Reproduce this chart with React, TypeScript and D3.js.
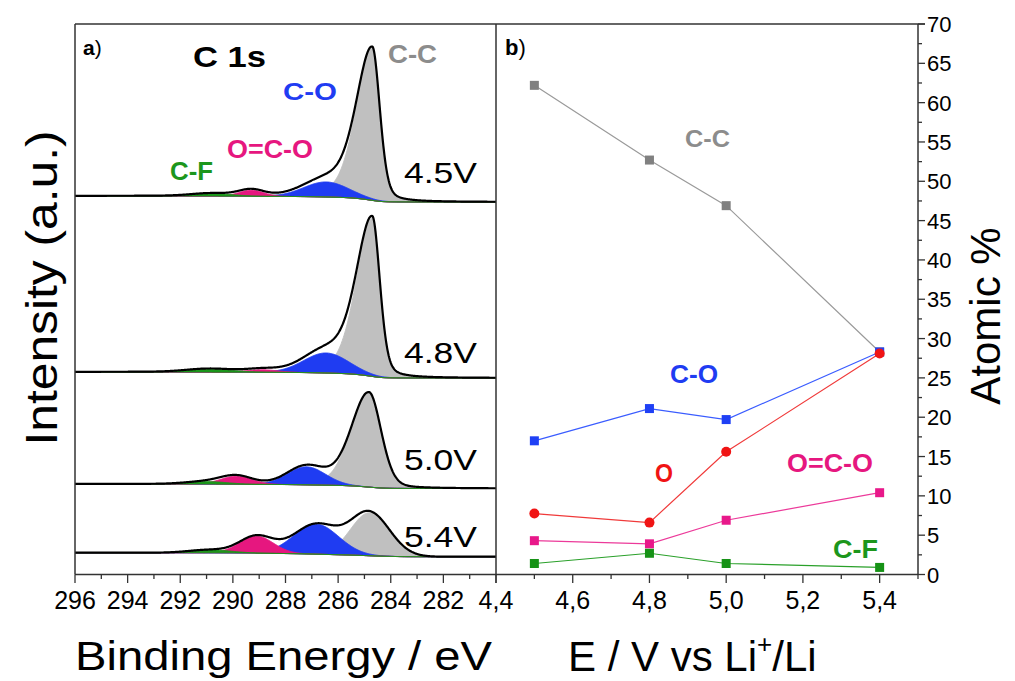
import React from "react";
import * as d3 from "d3";

// ---------- Panel a: C 1s XPS fits (peak parameters) ----------
const spectraLabels = ["4.5V", "4.8V", "5.0V", "5.4V"];
// background intensity (arb. units) at high-BE end (296 eV) and low-BE end (280 eV)
const bgHigh = [378, 202, 90, 21.3];
const bgLow = [372, 196, 85.5, 17.3];
// [center eV, height, HWHM high-BE side, HWHM low-BE side, Lorentzian fraction]
type Fit = [number, number, number, number, number];
const ccFit: Fit[] = [
  [284.7, 152, 0.72, 0.34, 0.3],
  [284.7, 158, 0.72, 0.34, 0.3],
  [284.83, 95, 0.8, 0.55, 0.2],
  [284.8, 43, 0.85, 0.9, 0],
];
const coFit: Fit[] = [
  [286.45, 15, 1.0, 1.0, 0],
  [286.45, 20, 1.0, 1.0, 0],
  [287.2, 18, 0.85, 0.85, 0],
  [286.83, 30, 1.0, 1.0, 0],
];
const ocoFit: Fit[] = [
  [289.3, 6, 0.55, 0.55, 0],
  [288.9, 2.5, 0.7, 0.7, 0],
  [289.86, 8, 0.7, 0.7, 0],
  [289.1, 17, 0.75, 0.75, 0],
];
const cfFit: Fit[] = [
  [290.8, 2.5, 0.9, 0.9, 0],
  [290.9, 3, 1.0, 1.0, 0],
  [291.0, 2.5, 0.9, 0.9, 0],
  [290.9, 3, 0.9, 0.9, 0],
];
const bindingTicks = [296, 294, 292, 290, 288, 286, 284, 282, 280];
const bindingTickLabels = ["296", "294", "292", "290", "288", "286", "284", "282", ""];

// ---------- Panel b: atomic % vs potential ----------
const potentials = [4.5, 4.8, 5.0, 5.4];
const ccAtomic = [62.2, 52.7, 46.9, 28.3];
const coAtomic = [17.0, 21.1, 19.7, 28.3];
const oAtomic = [7.75, 6.6, 15.6, 28.1];
const ocoAtomic = [4.3, 3.9, 6.9, 10.4];
const cfAtomic = [1.4, 2.7, 1.4, 0.9];
const potentialTicks = [4.4, 4.6, 4.8, 5.0, 5.2, 5.4];
const atomicTicks = [0, 5, 10, 15, 20, 25, 30, 35, 40, 45, 50, 55, 60, 65, 70];

const FONT = "'Liberation Sans', Arial, Helvetica, sans-serif";
const GRAY_FILL = "#c0c0c0";
const GRAY_TXT = "#8c8c8c";
const BLUE = "#1f3cf2";
const PINK = "#e6177f";
const GREEN = "#1c961c";
const RED = "#f01414";
const AXIS = "#333";

function pv(E: number, f: Fit) {
  const [c, h, wH, wL, m] = f;
  const w = E >= c ? wH : wL;
  const t = (E - c) / w;
  return h * (m / (1 + t * t) + (1 - m) * Math.exp(-Math.LN2 * t * t));
}

function Label(props: {
  x: number; y: number; size: number; text: string; fill?: string; bold?: boolean; width?: number; anchor?: string;
}) {
  const { x, y, size, text, fill = "#000", bold = false, width, anchor = "start" } = props;
  return (
    <text
      x={x}
      y={y}
      fontSize={size}
      fontFamily={FONT}
      fontWeight={bold ? "bold" : "normal"}
      fill={fill}
      textAnchor={anchor}
      {...(width ? { textLength: width, lengthAdjust: "spacingAndGlyphs" } : {})}
    >
      {text}
    </text>
  );
}

export default function App() {
  const xA = d3.scaleLinear().domain([296, 280]).range([75, 496]);
  const yA = d3.scaleLinear().domain([0, 550]).range([574, 24]);
  const xB = d3.scaleLinear().domain([4.4, 5.5]).range([496, 918]);
  const yB = d3.scaleLinear().domain([0, 70]).range([574.5, 24]);

  const step = 0.02;
  const grid = d3.range(0, 801).map((i) => 296 - i * step);

  const spectra = spectraLabels.map((_, s) => {
    const comps = [ccFit, coFit, ocoFit, cfFit].map((fits) => grid.map((E) => pv(E, fits[s])));
    const sum = grid.map((_, i) => comps.reduce((a, c) => a + c[i], 0));
    const cum = new Array(grid.length).fill(0);
    let acc = 0;
    for (let i = grid.length - 1; i >= 0; i--) {
      acc += sum[i] * step;
      cum[i] = acc;
    }
    const bg = grid.map((_, i) => bgLow[s] + (bgHigh[s] - bgLow[s]) * (cum[i] / acc));
    return { comps, sum, bg };
  });

  const compColors = [GRAY_FILL, BLUE, PINK, GREEN];

  const areaFor = (bg: number[], comp: number[]) =>
    d3
      .area<number>()
      .x((E) => xA(E))
      .y0((_, i) => yA(bg[i]))
      .y1((_, i) => yA(bg[i] + comp[i]))(grid) || "";

  const envFor = (bg: number[], sum: number[]) =>
    d3
      .line<number>()
      .x((E) => xA(E))
      .y((_, i) => yA(bg[i] + sum[i]))(grid) || "";

  const lineB = (vals: number[]) =>
    d3
      .line<number>()
      .x((p) => xB(p))
      .y((_, i) => yB(vals[i]))(potentials) || "";

  const spectrumLabelPos = [183, 363, 470, 547];

  const minorA = d3.range(295, 280, -2);
  const minorB = [4.5, 4.7, 4.9, 5.1, 5.3, 5.5];
  const minorY = d3.range(2.5, 70, 5);

  const squares = (vals: number[], color: string) =>
    potentials.map((p, i) => (
      <rect key={i} x={xB(p) - 4.5} y={yB(vals[i]) - 4.5} width={9} height={9} fill={color} />
    ));

  return (
    <svg
      width={1015}
      height={681}
      style={{ position: "absolute", left: 0, top: 0, background: "#fff" }}
      fontFamily={FONT}
    >
      <rect x={0} y={0} width={1015} height={681} fill="#fff" />
      <defs>
        <clipPath id="clipA">
          <rect x={75} y={24} width={421} height={550} />
        </clipPath>
      </defs>

      {/* Panel a spectra */}
      <g clipPath="url(#clipA)">
        {spectra.map((sp, s) => (
          <g key={s}>
            {sp.comps.map((c, k) => (
              <path
                key={k}
                d={areaFor(sp.bg, c)}
                fill={compColors[k]}
                stroke={compColors[k]}
                strokeWidth={1}
              />
            ))}
            <path d={envFor(sp.bg, sp.sum)} fill="none" stroke="#000" strokeWidth={2.2} />
          </g>
        ))}
      </g>

      {/* Panel b lines and markers */}
      <path d={lineB(ccAtomic)} fill="none" stroke="#9a9a9a" strokeWidth={1.2} />
      {squares(ccAtomic, "#808080")}
      <path d={lineB(coAtomic)} fill="none" stroke="#3a5cff" strokeWidth={1.2} />
      {squares(coAtomic, "#1f40f5")}
      <path d={lineB(oAtomic)} fill="none" stroke="#f03a3a" strokeWidth={1.2} />
      {potentials.map((p, i) => (
        <circle key={i} cx={xB(p)} cy={yB(oAtomic[i])} r={5} fill={RED} />
      ))}
      <path d={lineB(ocoAtomic)} fill="none" stroke="#ec3a9a" strokeWidth={1.2} />
      {squares(ocoAtomic, "#e8188a")}
      <path d={lineB(cfAtomic)} fill="none" stroke="#2aa02a" strokeWidth={1.2} />
      {squares(cfAtomic, "#169216")}

      {/* Frame */}
      <g stroke={AXIS} strokeWidth={1.5} fill="none">
        <line x1={75} y1={24} x2={925} y2={24} />
        <line x1={75} y1={24} x2={75} y2={574.5} />
        <line x1={496} y1={24} x2={496} y2={574.5} />
        <line x1={918} y1={24} x2={918} y2={574.5} />
        <line x1={75} y1={574.5} x2={918} y2={574.5} />
      </g>

      {/* Ticks */}
      <g stroke={AXIS} strokeWidth={1.3}>
        {bindingTicks.map((t) => (
          <line key={t} x1={xA(t)} x2={xA(t)} y1={574.5} y2={583} />
        ))}
        {minorA.map((t) => (
          <line key={t} x1={xA(t)} x2={xA(t)} y1={574.5} y2={579} />
        ))}
        {potentialTicks.map((t) => (
          <line key={t} x1={xB(t)} x2={xB(t)} y1={574.5} y2={583} />
        ))}
        {minorB.map((t) => (
          <line key={t} x1={xB(t)} x2={xB(t)} y1={574.5} y2={579} />
        ))}
        {atomicTicks.map((t) => (
          <line key={t} x1={918} x2={925} y1={yB(t)} y2={yB(t)} />
        ))}
        {minorY.map((t) => (
          <line key={t} x1={918} x2={922} y1={yB(t)} y2={yB(t)} />
        ))}
      </g>

      {bindingTicks.map((t, i) => (
        <Label key={t} x={xA(t)} y={609} size={25} text={bindingTickLabels[i]} anchor="middle" />
      ))}
      {potentialTicks.map((t) => (
        <Label
          key={t}
          x={xB(t)}
          y={609}
          size={25}
          text={d3.format(".1f")(t).replace(".", ",")}
          anchor="middle"
        />
      ))}
      {atomicTicks.map((t) => (
        <Label key={t} x={927} y={yB(t) + 8} size={22} text={String(t)} />
      ))}

      {/* Axis titles */}
      <Label x={283.5} y={670} size={40} text="Binding Energy / eV" anchor="middle" width={417} />
      <text x={568} y={671} fontSize={42} fontFamily={FONT} fill="#000">
        E / V vs Li
        <tspan fontSize={26} dy={-18}>+</tspan>
        <tspan dy={18}>/Li</tspan>
      </text>
      <text
        transform="translate(57,288) rotate(-90)"
        fontSize={44}
        fontFamily={FONT}
        textAnchor="middle"
        textLength={315}
        lengthAdjust="spacingAndGlyphs"
      >
        Intensity (a.u.)
      </text>
      <text
        transform="translate(1000,316) rotate(-90)"
        fontSize={42}
        fontFamily={FONT}
        textAnchor="middle"
      >
        Atomic %
      </text>

      {/* Panel a annotations */}
      <text x={83} y={55} fontSize={21} fontFamily={FONT}>
        <tspan fontWeight="bold">a</tspan>)
      </text>
      <Label x={193} y={67} size={30} text="C 1s" bold width={73} />
      <Label x={388} y={63} size={25} text="C-C" bold fill={GRAY_TXT} width={49} />
      <Label x={283} y={100} size={24} text="C-O" bold fill={BLUE} width={54} />
      <Label x={227} y={158} size={25} text="O=C-O" bold fill={PINK} width={86} />
      <Label x={170} y={180} size={25} text="C-F" bold fill={GREEN} width={43} />
      {spectraLabels.map((l, i) => (
        <Label key={l} x={404} y={spectrumLabelPos[i]} size={30} text={l} width={73} />
      ))}

      {/* Panel b annotations */}
      <text x={505} y={55} fontSize={22} fontFamily={FONT}>
        <tspan fontWeight="bold">b</tspan>)
      </text>
      <Label x={685} y={147} size={24} text="C-C" bold fill={GRAY_TXT} width={45} />
      <Label x={670} y={383} size={25} text="C-O" bold fill={BLUE} width={48} />
      <Label x={655} y={482} size={26} text="O" bold fill={RED} width={18} />
      <Label x={787} y={472} size={25} text="O=C-O" bold fill={PINK} width={86} />
      <Label x={833} y={558} size={25} text="C-F" bold fill={GREEN} width={45} />
    </svg>
  );
}
